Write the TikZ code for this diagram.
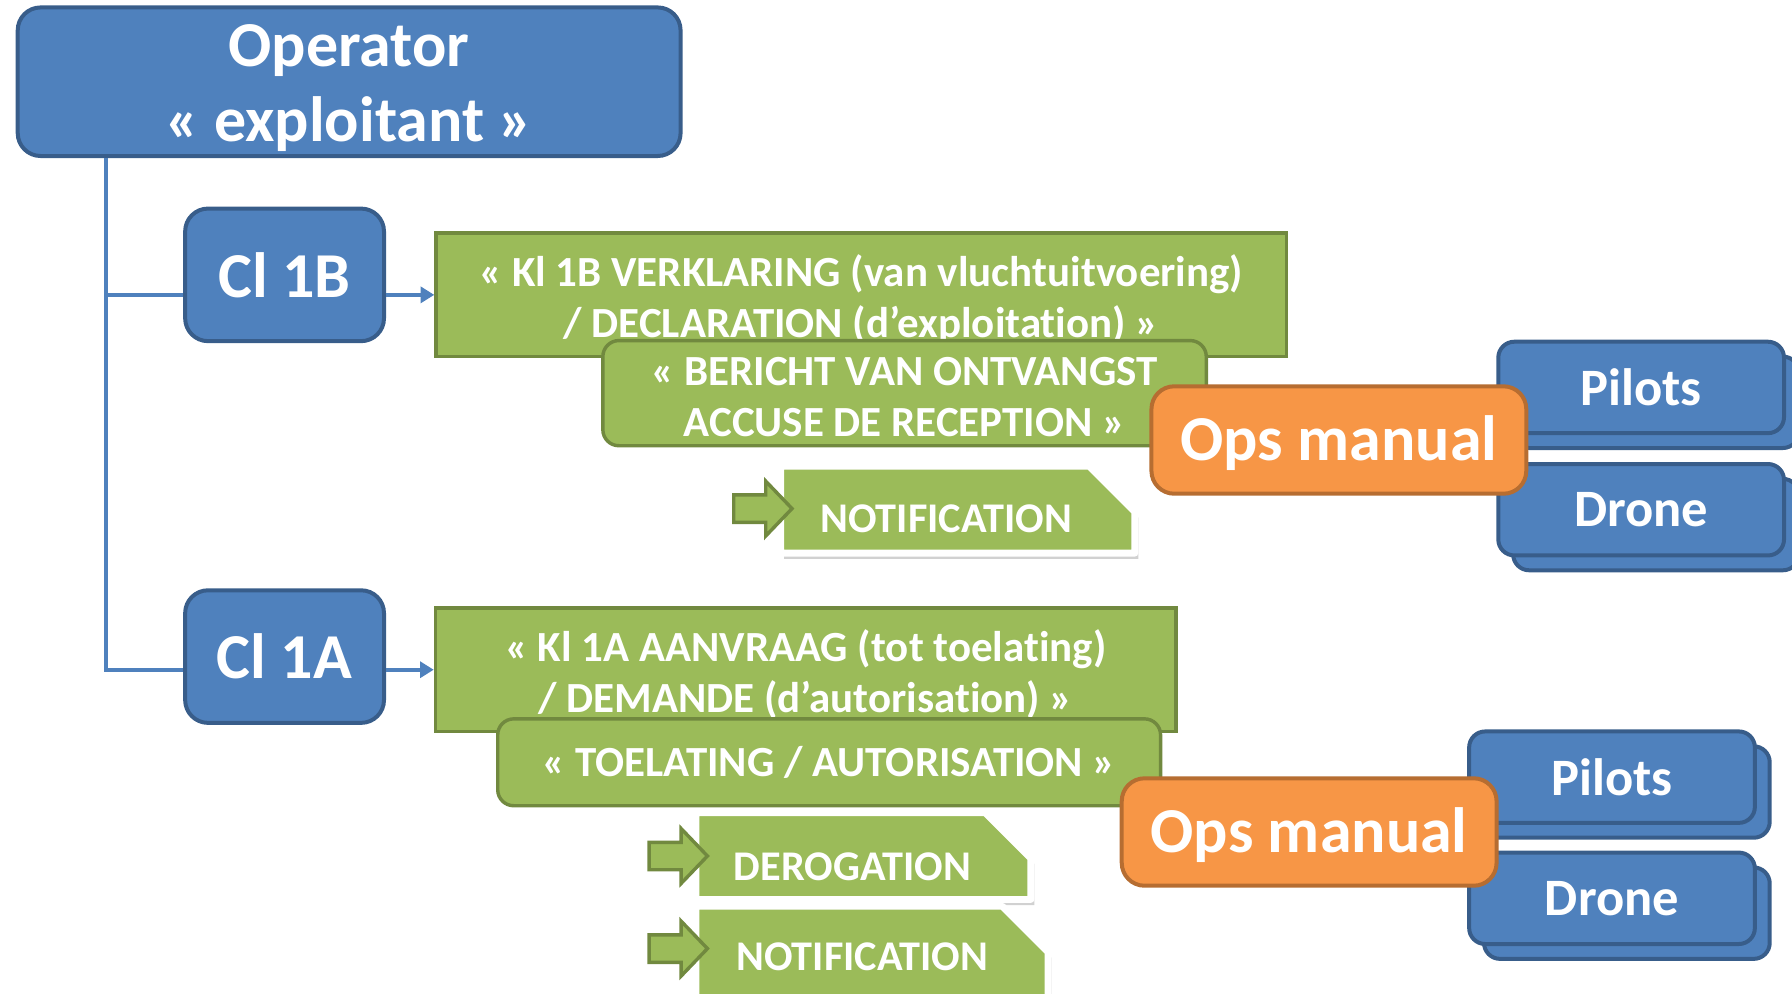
\documentclass[tikz,border=0pt]{standalone}
\usepackage{fontspec}
\setmainfont{Carlito}[Ligatures=CommonOff]
\usetikzlibrary{arrows.meta,positioning}

\definecolor{blueF}{HTML}{4F81BD}
\definecolor{blueD}{HTML}{385D8A}
\definecolor{greenF}{HTML}{9BBB59}
\definecolor{greenD}{HTML}{71893F}
\definecolor{orangeF}{HTML}{F79646}
\definecolor{orangeD}{HTML}{B66D31}

% snipped green label: x1 y1 x2 y2
\newcommand{\snipbox}[4]{%
  \fill[black!18] (#1+3,#2+5) -- (#3-37,#2+5) -- (#3+3,#2+45) -- (#3+3,#4+5) -- (#1+3,#4+5) -- cycle;
  \filldraw[fill=greenF,draw=white,line width=3pt,line join=round]
    (#1,#2) -- (#3-40,#2) -- (#3,#2+40) -- (#3,#4) -- (#1,#4) -- cycle;}
% block arrow: left x, centre y
\newcommand{\blockarrow}[2]{%
  \filldraw[fill=greenF,draw=greenD,line width=1.5pt,line join=miter]
    (#1,#2-12) -- (#1+28,#2-12) -- (#1+28,#2-24) -- (#1+51,#2) -- (#1+28,#2+24)
    -- (#1+28,#2+12) -- (#1,#2+12) -- cycle;}
% strut to push a node text down
\newcommand{\up}[1]{\rule{0pt}{#1}}

\begin{document}
\begin{tikzpicture}[x=0.5pt,y=-0.5pt,
    bluebox/.style={draw=blueD,fill=blueF,line width=1.75pt,rounded corners=10pt,text=white,
      inner sep=0pt,align=center,font=\bfseries\fontsize{28}{33}\selectfont},
    greenbox/.style={draw=greenD,fill=greenF,line width=1.5pt,text=white,inner sep=0pt,
      align=center,font=\bfseries\fontsize{18.8}{22.5}\selectfont},
    opsbox/.style={draw=orangeD,fill=orangeF,line width=1.75pt,rounded corners=10pt,text=white,
      inner sep=0pt,minimum width=164pt,minimum height=47pt,font=\bfseries\fontsize{28}{33}\selectfont},
    smallbox/.style={bluebox,rounded corners=7pt,minimum width=125pt,minimum height=40pt,
      font=\bfseries\fontsize{23}{27}\selectfont},
    conn/.style={blueF,line width=1.75pt},
    notetext/.style={text=white,inner sep=0pt,font=\bfseries\fontsize{18.5}{22}\selectfont}]
  \useasboundingbox (0,0) rectangle (1568,869);

  \coordinate (trunk) at (93,0);

  % operator and classes
  \node[bluebox,minimum width=290pt,minimum height=65pt] (op) at (305.5,71.5) {\up{24pt}Operator\\«~exploitant~»};
  \node[bluebox,minimum width=87pt,minimum height=58pt] (clB) at (249,240.5) {Cl 1B};
  \node[bluebox,minimum width=87pt,minimum height=58pt] (clA) at (249,574.5) {Cl 1A};

  % class 1B
  \node[greenbox,minimum width=372pt,minimum height=54pt] (declB) at (753.5,258)
    {\up{18pt}« Kl 1B VERKLARING (van vluchtuitvoering)\\/ DECLARATION (d’exploitation) »};
  \node[greenbox,rounded corners=7pt,minimum width=264pt,minimum height=46pt] (recB) at (791.5,344)
    {\up{16pt}« BERICHT VAN ONTVANGST\\ACCUSE DE RECEPTION »};
  \snipbox{683}{408}{993}{484}
  \blockarrow{642}{445}
  \node[notetext] (notB) at (828,454) {NOTIFICATION};

  \node[smallbox] (pilBb) at (1449,352) {};
  \node[smallbox] (pilB) at (1436,339) {Pilots};
  \node[smallbox] (droBb) at (1449,459) {};
  \node[smallbox] (droB) at (1436,446) {Drone};
  \node[opsbox] (opsB) at (1171.5,385) {\up{22.5pt}Ops manual};

  % class 1A
  \node[greenbox,minimum width=324pt,minimum height=54pt] (reqA) at (705,586)
    {\up{18pt}« Kl 1A AANVRAAG (tot toelating)\\/ DEMANDE (d’autorisation) »};
  \node[greenbox,rounded corners=7pt,minimum width=290pt,minimum height=38pt] (autA) at (725.5,667)
    {« TOELATING / AUTORISATION »};
  \snipbox{609}{711}{902}{787}
  \blockarrow{568}{749}
  \node[notetext] (derA) at (746,758) {DEROGATION};
  \snipbox{609}{793}{917}{880}
  \blockarrow{568}{830}
  \node[notetext] (notA) at (754.5,837) {NOTIFICATION};

  \node[smallbox] (pilAb) at (1423.5,693) {};
  \node[smallbox] (pilA) at (1410.5,680) {Pilots};
  \node[smallbox] (droAb) at (1423.5,799) {};
  \node[smallbox] (droA) at (1410.5,786) {Drone};
  \node[opsbox] (opsA) at (1145.5,728) {\up{22.5pt}Ops manual};

  % connectors
  \draw[conn] (op.south -| trunk) |- (clB.west |- declB.west);
  \draw[conn] (op.south -| trunk) |- (clA.west |- reqA.west);
  \draw[conn,-{Triangle[length=6pt,width=7pt]}] (clB.east |- declB.west) -- (declB.west);
  \draw[conn,-{Triangle[length=6pt,width=7pt]}] (clA.east |- reqA.west) -- (reqA.west);
\end{tikzpicture}
\end{document}
